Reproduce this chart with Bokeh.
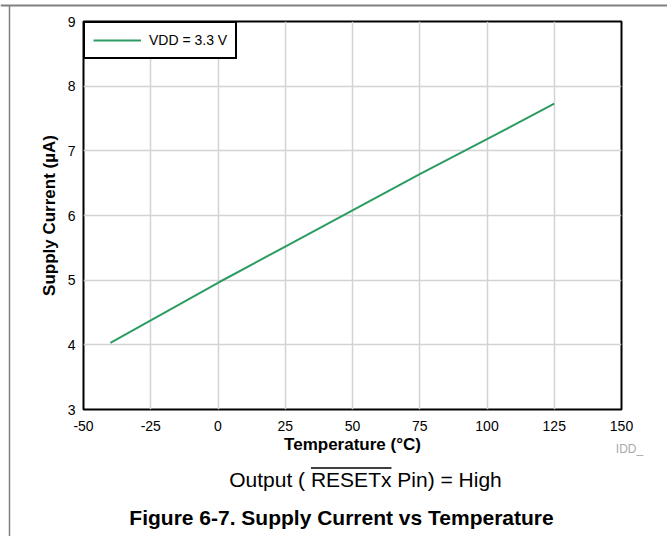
from bokeh.plotting import figure
from bokeh.models import Range1d, Legend, LegendItem, FixedTicker
from bokeh.core.properties import value
from bokeh.embed import file_html
from bokeh.resources import INLINE

# ---- data ----
temps = [-40, -25, 0, 25, 50, 75, 100, 125]
current_ua = [4.03, 4.38, 4.96, 5.52, 6.08, 6.64, 7.18, 7.73]
series_label = "VDD = 3.3 V"
x_ticks = [-50, -25, 0, 25, 50, 75, 100, 125, 150]
y_ticks = [3, 4, 5, 6, 7, 8, 9]
x_title = "Temperature (°C)"
y_title = "Supply Current (µA)"
note_text = "Output ( RESETx Pin) = High"
caption_text = "Figure 6-7. Supply Current vs Temperature"
tag_text = "IDD_"

FONT = "Liberation Sans"
W, H = 667, 536
FL, FR, FT, FB = 83, 621, 21, 409  # frame edges (px)

# ---------------- main chart ----------------
p = figure(width=W, height=H, output_backend="svg", toolbar_location=None,
           x_range=Range1d(-50, 150), y_range=Range1d(3, 9),
           min_border_left=FL, min_border_right=W - FR,
           min_border_top=FT, min_border_bottom=H - FB)
p.background_fill_color = "white"
p.border_fill_color = "white"
p.outline_line_color = "black"
p.outline_line_width = 2
p.outline_line_alpha = 1.0

line = p.line(temps, current_ua, line_color="#2d9c63", line_width=2)

p.xaxis.ticker = FixedTicker(ticks=x_ticks)
p.yaxis.ticker = FixedTicker(ticks=y_ticks)
p.xaxis.major_label_overrides = {t: str(t) for t in x_ticks if t < 0}
for ax in (p.xaxis, p.yaxis):
    ax.axis_line_color = None
    ax.major_tick_line_color = None
    ax.minor_tick_line_color = None
    ax.major_tick_in = 0
    ax.major_tick_out = 0
    ax.major_label_text_font = FONT
    ax.major_label_text_font_size = "14px"
    ax.major_label_text_color = "black"
    ax.axis_label_text_font = FONT
    ax.axis_label_text_font_size = "17px"
    ax.axis_label_text_font_style = "bold"
    ax.axis_label_text_color = "black"
p.xaxis.axis_label = x_title
p.yaxis.axis_label = y_title
p.xaxis.major_label_standoff = 11
p.yaxis.major_label_standoff = 8
p.xaxis.axis_label_standoff = 1
p.yaxis.axis_label_standoff = 6

p.grid.grid_line_color = "#d3d3d3"
p.grid.grid_line_width = 1.5

legend = Legend(items=[LegendItem(label=series_label, renderers=[line])],
                location="top_left", margin=0, padding=8, spacing=0,
                glyph_width=48, glyph_height=18, label_height=18,
                label_standoff=8, border_line_color="black",
                border_line_width=2, border_line_alpha=1.0,
                background_fill_color="white", background_fill_alpha=1.0,
                label_text_font=FONT, label_text_font_size="14px",
                label_text_color="black")
p.add_layout(legend)

# ---------------- overlay for page texts and rules (pixel coordinates) ----------------
o = figure(width=W, height=H, output_backend="svg", toolbar_location=None,
           x_range=Range1d(0, W), y_range=Range1d(H, 0),
           x_axis_location=None, y_axis_location=None,
           min_border=0, min_border_left=0, min_border_right=0,
           min_border_top=0, min_border_bottom=0)
o.grid.visible = False
o.outline_line_color = None
o.background_fill_alpha = 0
o.border_fill_alpha = 0
o.styles = {"position": "absolute", "top": "0px", "left": "0px"}

# document rules
o.segment(x0=[0, 9], y0=[5, 5], x1=[W, 9], y1=[5, H],
          line_color="#808080", line_width=[2, 1.5])

# small tag
o.text(x=[629], y=[448], text=[tag_text], text_font=value(FONT),
       text_font_size=value("12px"), text_color="#aaaaaa",
       text_align="center", text_baseline="middle")

# note line with overline over RESETx
NOTE_PX = 21
note_cx = 365
o.text(x=[note_cx], y=[479], text=[note_text], text_font=value(FONT),
       text_font_size=value(f"{NOTE_PX}px"), text_color="black",
       text_align="center", text_baseline="middle")
# Arial/Liberation advance widths (em): total 12.977, prefix 3.891, RESETx 3.834
note_left = note_cx - 12.977 * NOTE_PX / 2
ol_x0 = note_left + 3.891 * NOTE_PX
ol_x1 = ol_x0 + 3.834 * NOTE_PX
o.segment(x0=[ol_x0], y0=[467.5], x1=[ol_x1], y1=[467.5],
          line_color="black", line_width=1.3)

# caption
o.text(x=[341], y=[517], text=[caption_text], text_font=value(FONT),
       text_font_size=value("21px"), text_font_style="bold",
       text_color="black", text_align="center", text_baseline="middle")

open("out.html", "w").write(file_html([p, o], INLINE))
